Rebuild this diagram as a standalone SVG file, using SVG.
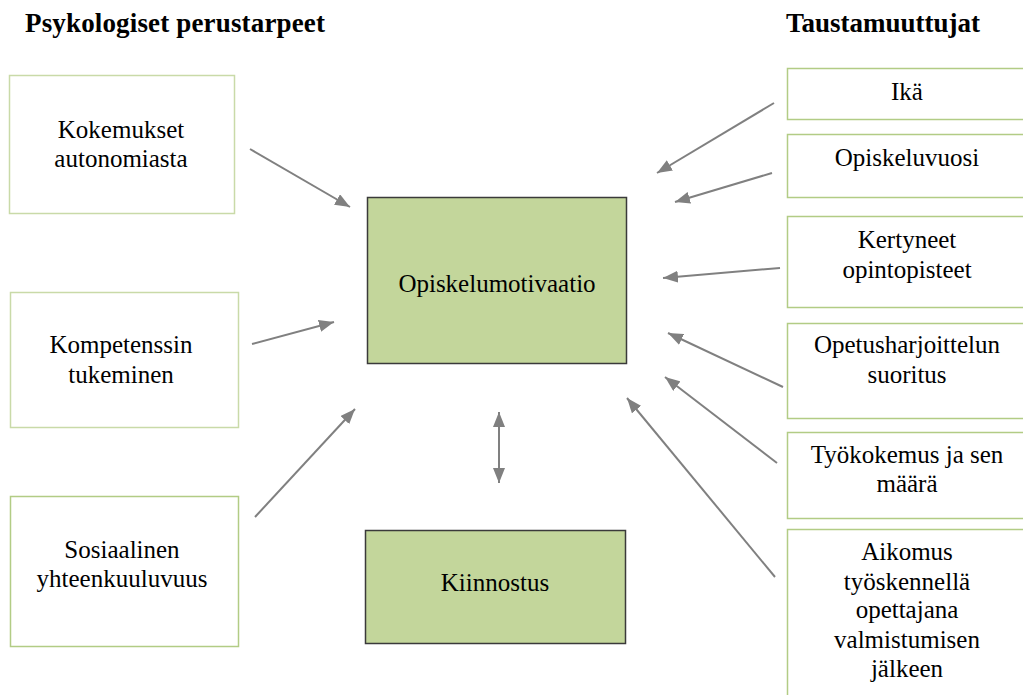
<svg xmlns="http://www.w3.org/2000/svg" width="1023" height="695" viewBox="0 0 1023 695">
  <style>
    .txt { font-family: "Liberation Serif", "Times New Roman", serif; font-size: 25px; fill: #000; text-anchor: middle; }
    .hdr { font-family: "Liberation Serif", "Times New Roman", serif; font-size: 27px; font-weight: bold; fill: #000; }
    .side { fill: #ffffff; stroke: #C9DAA8; stroke-width: 1.5; }
    .sideR { fill: #ffffff; stroke: #B2CC85; stroke-width: 1.5; }
    .core { fill: #C3D69B; stroke: #3A3A3A; stroke-width: 1.5; }
    .conn { stroke: #808080; stroke-width: 2; fill: none; marker-end: url(#head); }
    .both { marker-start: url(#head); }
  </style>
  <defs>
    <marker id="head" markerUnits="userSpaceOnUse" markerWidth="16" markerHeight="12" refX="15" refY="6" orient="auto-start-reverse">
      <path d="M0,0 L15,6 L0,12 Z" fill="#808080"/>
    </marker>
  </defs>

  <rect width="1023" height="695" fill="#ffffff"/>

  <!-- column headings -->
  <text class="hdr" x="25" y="32" textLength="300">Psykologiset perustarpeet</text>
  <text class="hdr" x="786" y="32" textLength="194">Taustamuuttujat</text>

  <!-- psychological needs -->
  <g id="kokemukset">
    <rect class="side" x="9.5" y="75.5" width="225" height="138"/>
    <text class="txt" x="121" y="138">Kokemukset</text>
    <text class="txt" x="121" y="167">autonomiasta</text>
  </g>
  <g id="kompetenssi">
    <rect class="side" x="10.5" y="292.5" width="228" height="135"/>
    <text class="txt" x="121" y="353">Kompetenssin</text>
    <text class="txt" x="121" y="383">tukeminen</text>
  </g>
  <g id="sosiaalinen">
    <rect class="sideR" x="10.5" y="496.5" width="228" height="150"/>
    <text class="txt" x="122" y="558">Sosiaalinen</text>
    <text class="txt" x="122" y="587">yhteenkuuluvuus</text>
  </g>

  <!-- central concepts -->
  <g id="motivaatio">
    <rect class="core" x="367.5" y="197.5" width="259" height="166"/>
    <text class="txt" x="497" y="292">Opiskelumotivaatio</text>
  </g>
  <g id="kiinnostus">
    <rect class="core" x="365.5" y="530.5" width="260" height="113"/>
    <text class="txt" x="495" y="591">Kiinnostus</text>
  </g>

  <!-- background variables -->
  <g id="ika">
    <rect class="sideR" x="787.5" y="68.5" width="241" height="51"/>
    <text class="txt" x="907" y="100">Ikä</text>
  </g>
  <g id="opiskeluvuosi">
    <rect class="sideR" x="787.5" y="134.5" width="241" height="63"/>
    <text class="txt" x="907" y="166">Opiskeluvuosi</text>
  </g>
  <g id="opintopisteet">
    <rect class="sideR" x="787.5" y="216.5" width="241" height="91"/>
    <text class="txt" x="907" y="248">Kertyneet</text>
    <text class="txt" x="907" y="278">opintopisteet</text>
  </g>
  <g id="opetusharjoittelu">
    <rect class="sideR" x="787.5" y="323.5" width="241" height="95"/>
    <text class="txt" x="907" y="353">Opetusharjoittelun</text>
    <text class="txt" x="907" y="383">suoritus</text>
  </g>
  <g id="tyokokemus">
    <rect class="sideR" x="787.5" y="432.5" width="241" height="86"/>
    <text class="txt" x="907" y="463">Työkokemus ja sen</text>
    <text class="txt" x="907" y="492">määrä</text>
  </g>
  <g id="aikomus">
    <rect class="sideR" x="787.5" y="529.5" width="241" height="180"/>
    <text class="txt" x="907" y="560">Aikomus</text>
    <text class="txt" x="907" y="590">työskennellä</text>
    <text class="txt" x="907" y="618">opettajana</text>
    <text class="txt" x="907" y="648">valmistumisen</text>
    <text class="txt" x="907" y="677">jälkeen</text>
  </g>

  <!-- connectors -->
  <g id="connectors">
    <line class="conn" x1="250" y1="149" x2="350" y2="207"/>
    <line class="conn" x1="252" y1="344" x2="334" y2="322"/>
    <line class="conn" x1="255" y1="517" x2="355" y2="409"/>
    <line class="conn both" x1="499" y1="412" x2="499" y2="483"/>
    <line class="conn" x1="774" y1="103" x2="657" y2="173"/>
    <line class="conn" x1="772" y1="173" x2="675" y2="202"/>
    <line class="conn" x1="780" y1="268" x2="663" y2="278"/>
    <line class="conn" x1="783" y1="387" x2="668" y2="333"/>
    <line class="conn" x1="777" y1="463" x2="665" y2="377"/>
    <line class="conn" x1="775" y1="577" x2="627" y2="398"/>
  </g>
</svg>
